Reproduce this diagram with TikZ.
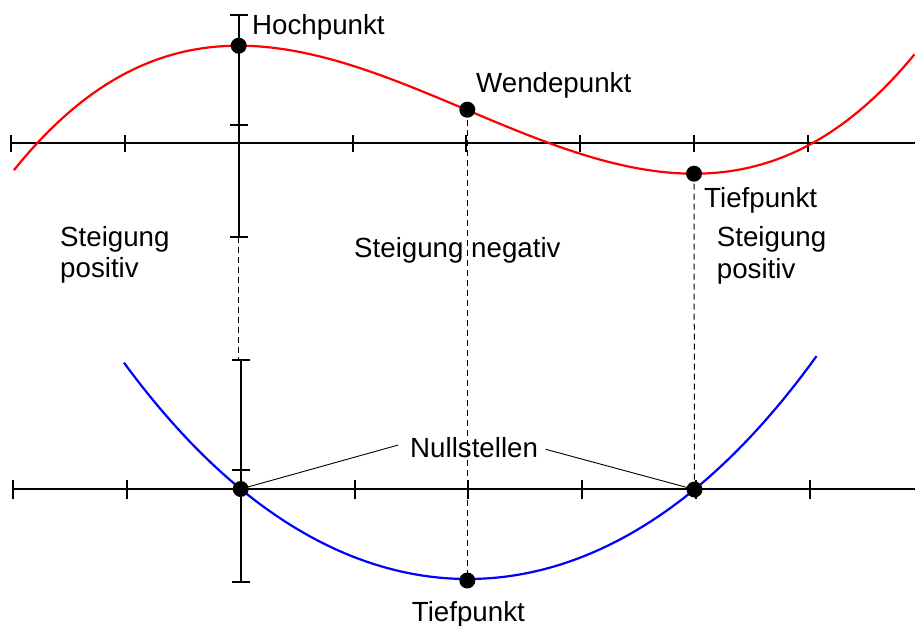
\documentclass[tikz,border=0pt]{standalone}
\usepackage{fontspec}
\setmainfont{Liberation Sans}
\begin{document}
\begin{tikzpicture}[x=1pt,y=-1pt,
  axis/.style={line width=2pt,black},
  tickmark/.style={line width=2pt,black},
  dot/.style={circle,fill=black,minimum size=16pt,inner sep=0pt},
  lbl/.style={anchor=base west,inner sep=0pt,font=\fontsize{27.7}{32}\selectfont},
  guide/.style={dash pattern=on 6pt off 4pt,line width=1pt},
  lead/.style={line width=0.9pt}]
\useasboundingbox (0,0) rectangle (915,626);

% ---------- top graph: axes ----------
\coordinate (xa1l) at (11,143.3);
\coordinate (xa1r) at (915,143.3);
\draw[axis] (xa1l) -- (xa1r);
\foreach \k in {-2,...,5} {
  \draw[tickmark] ({238.7+113.8*\k},134.8) -- ({238.7+113.8*\k},151.8);
}
\coordinate (ya1t) at (238.7,15);
\coordinate (ya1b) at (238.7,236.7);
\draw[axis] (ya1t) -- (ya1b);
\foreach \yy in {15,124.7,236.7} {
  \draw[tickmark] (230,\yy) -- (248,\yy);
}

% ---------- bottom graph: axes ----------
\coordinate (xa2l) at (13,489);
\coordinate (xa2r) at (915,489);
\draw[axis] (xa2l) -- (xa2r);
\foreach \k in {-2,...,5} {
  \draw[tickmark] ({240.7+113.8*\k},479.5) -- ({240.7+113.8*\k},498.5);
}
\coordinate (ya2t) at (240.7,360);
\coordinate (ya2b) at (240.7,581.7);
\draw[axis] (ya2t) -- (ya2b);
\foreach \yy in {360,470,581.7} {
  \draw[tickmark] (232,\yy) -- (250,\yy);
}

% ---------- curves ----------
\draw[red,line width=2.2pt] plot[domain=-1.975:5.94,samples=160]
  ({238.7+113.8*\x},{143.3-4*\x*\x*\x+24*\x*\x-97.6});
\draw[blue,line width=2.2pt] plot[domain=-1.5138:1.5358,samples=120]
  ({467.85+227.15*\x},{489+93.4*(1-\x*\x)-3.4*(\x*\x-1)*(\x*\x-1)});

% ---------- points ----------
\coordinate (hpc) at (238.7,45.7);
\coordinate (wpc) at (467.3,109.7);
\coordinate (tpc) at (694,173.7);
\coordinate (n1c) at (240.7,489);
\coordinate (n2c) at (694.5,489.5);
\coordinate (tp2c) at (467.3,580.5);

% ---------- guides and leaders ----------
\draw[guide] (ya1b) -- (ya1b |- ya2t);
\draw[guide] (wpc) -- (tp2c);
\draw[guide] (tpc) -- (n2c);
\coordinate (nl) at (398.3,445);
\coordinate (nr) at (545.7,449.3);
\draw[lead] (nl) -- (n1c);
\draw[lead] (nr) -- (n2c);

\node[dot] (hp) at (hpc) {};
\node[dot] (wp) at (wpc) {};
\node[dot] (tp) at (tpc) {};
\node[dot] (n1) at (n1c) {};
\node[dot] (n2) at (n2c) {};
\node[dot] (tp2) at (tp2c) {};

% ---------- labels ----------
\node[lbl] (lhp) at (252,34.3) {Hochpunkt};
\node[lbl] (lwp) at (476,92.3) {Wendepunkt};
\node[lbl] (ltp) at (704,207.3) {Tiefpunkt};
\node[lbl] (lsl1) at (60,246.7) {Steigung};
\node[lbl] (lsl2) at (60,277.3) {positiv};
\node[lbl] (lsm) at (354,257.3) {Steigung negativ};
\node[lbl] (lsr1) at (716.7,246.7) {Steigung};
\node[lbl] (lsr2) at (716.7,278.3) {positiv};
\node[lbl] (lns) at (410,457.3) {Nullstellen};
\node[lbl] (ltp2) at (411.7,621.7) {Tiefpunkt};
\end{tikzpicture}
\end{document}
